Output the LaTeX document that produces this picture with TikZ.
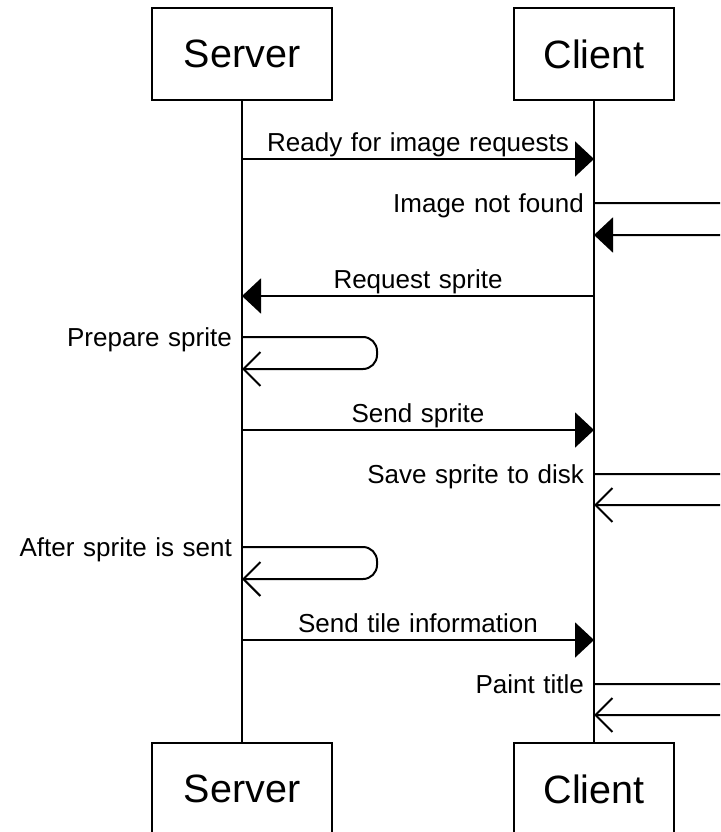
\documentclass[tikz,border=0pt]{standalone}
\usepackage{fontspec}
\setmainfont{Liberation Sans}
\usetikzlibrary{arrows.meta}

% message label face: slightly wider word gaps
\newcommand\msgfont{\fontsize{26pt}{30pt}\selectfont\spaceskip=0.33em plus 0.1em\relax}

\tikzset{
  actor/.style={draw, line width=2pt, fill=white, minimum height=92pt, inner sep=0pt,
    font=\fontsize{39.5pt}{44pt}\selectfont},
  lifeline/.style={line width=2pt},
  msg/.style={line width=2pt, -{Triangle[length=19pt,width=35pt]}},
  selfmsg/.style={line width=2pt, rounded corners=14pt, -{Straight Barb[length=17pt,width=34pt]}},
  selfsync/.style={line width=2pt, rounded corners=14pt, -{Triangle[length=19pt,width=35pt]}},
  msglabel/.style={font=\msgfont, inner sep=0pt, anchor=base, yshift=7.5pt},
  sidelabel/.style={font=\msgfont, inner sep=0pt, anchor=base east,
    xshift=-10pt, yshift=-9pt},
}

\begin{document}
\begin{tikzpicture}[x=1pt, y=-1pt]
  \clip (0,0) rectangle (720,832);
  \fill[white] (0,0) rectangle (720,832);

  % participants, top and bottom
  \node[actor, minimum width=180pt] (srvTop) at (242,54) {Server};
  \node[actor, minimum width=160pt] (cliTop) at (594,54) {Client};
  \node[actor, minimum width=180pt] (srvBot) at (242,789) {Server};
  \node[actor, minimum width=160pt] (cliBot) at (594,789) {Client};

  % lifelines
  \draw[lifeline] (srvTop.south) -- (srvBot.north);
  \draw[lifeline] (cliTop.south) -- (cliBot.north);

  % points on the lifelines
  \coordinate (s1) at (srvTop.south |- 0,159);
  \coordinate (c1) at (cliTop.south |- 0,159);
  \coordinate (c2a) at (cliTop.south |- 0,203);
  \coordinate (c2b) at (cliTop.south |- 0,235);
  \coordinate (s3) at (srvTop.south |- 0,296);
  \coordinate (c3) at (cliTop.south |- 0,296);
  \coordinate (s4a) at (srvTop.south |- 0,337);
  \coordinate (s4b) at (srvTop.south |- 0,369);
  \coordinate (s5) at (srvTop.south |- 0,430);
  \coordinate (c5) at (cliTop.south |- 0,430);
  \coordinate (c6a) at (cliTop.south |- 0,474);
  \coordinate (c6b) at (cliTop.south |- 0,505);
  \coordinate (s7a) at (srvTop.south |- 0,547);
  \coordinate (s7b) at (srvTop.south |- 0,579);
  \coordinate (s8) at (srvTop.south |- 0,640);
  \coordinate (c8) at (cliTop.south |- 0,640);
  \coordinate (c9a) at (cliTop.south |- 0,684);
  \coordinate (c9b) at (cliTop.south |- 0,715);

  % messages
  \draw[msg] (s1) -- node[msglabel] {Ready for image requests} (c1);

  \node[sidelabel] at (c2a) {Image not found};
  \draw[selfsync] (c2a) -- ++(140,0) -- ++(0,32) -- (c2b);

  \draw[msg] (c3) -- node[msglabel] {Request sprite} (s3);

  \node[sidelabel] at (s4a) {Prepare sprite};
  \draw[selfmsg] (s4a) -- ++(135,0) -- ++(0,32) -- (s4b);

  \draw[msg] (s5) -- node[msglabel] {Send sprite} (c5);

  \node[sidelabel] at (c6a) {Save sprite to disk};
  \draw[selfmsg] (c6a) -- ++(140,0) -- ++(0,31) -- (c6b);

  \node[sidelabel] at (s7a) {After sprite is sent};
  \draw[selfmsg] (s7a) -- ++(135,0) -- ++(0,32) -- (s7b);

  \draw[msg] (s8) -- node[msglabel] {Send tile information} (c8);

  \node[sidelabel] at (c9a) {Paint title};
  \draw[selfmsg] (c9a) -- ++(140,0) -- ++(0,31) -- (c9b);
\end{tikzpicture}
\end{document}
